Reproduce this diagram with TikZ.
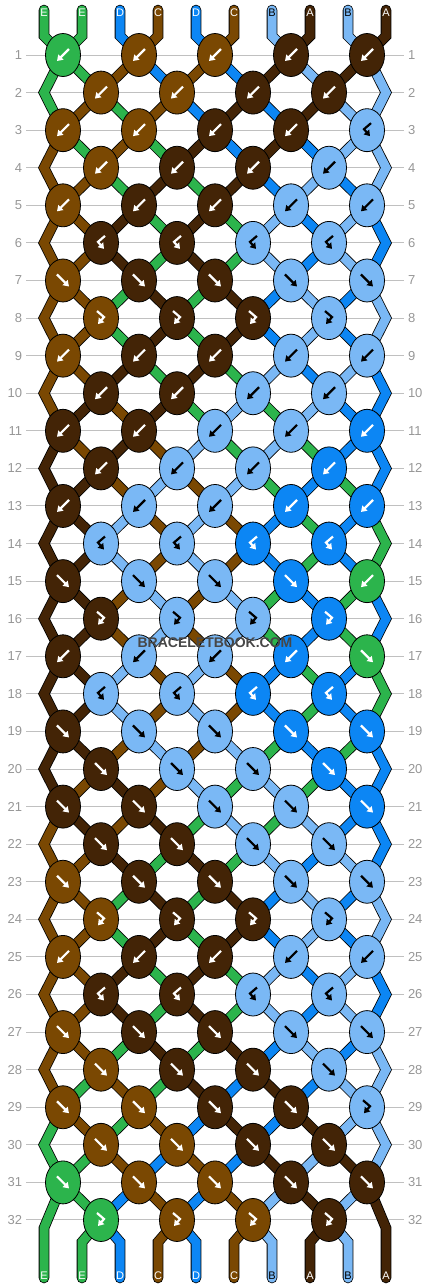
\documentclass[tikz,border=0pt]{standalone}
\usepackage{fontspec}
\setmainfont{Liberation Sans}
\usetikzlibrary{shapes.geometric,arrows.meta,backgrounds}
\definecolor{strA}{RGB}{67,36,6}
\definecolor{strB}{RGB}{122,184,245}
\definecolor{strC}{RGB}{122,72,2}
\definecolor{strD}{RGB}{12,134,244}
\definecolor{strE}{RGB}{44,180,76}
\colorlet{txtA}{white}
\colorlet{txtB}{black}
\colorlet{txtC}{white}
\colorlet{txtD}{white}
\colorlet{txtE}{white}
\definecolor{rulegrey}{RGB}{192,192,192}
\definecolor{numgrey}{RGB}{150,150,150}
\tikzset{
  knot/.style={ellipse,draw=black,line width=.8pt,minimum width=35pt,
    minimum height=43pt,inner sep=0pt,fill=str#1},
  strand/.style={draw=black,line width=.8pt,double=str#1,double distance=9pt,
    line cap=round},
  glyph/.style={line width=2.2pt,-{Triangle[length=5.5pt,width=7pt]}},
  glyphb/.pic={\draw[glyph] (6,-6) -- (-6,6);},
  glyphf/.pic={\draw[glyph] (-6,-6) -- (6,6);},
  glyphfb/.pic={\draw[glyph] (-4,-7) -- (3,-1) -- (-3,6);},
  glyphbf/.pic={\draw[glyph] (4,-7) -- (-3,-1) -- (3,6);},
  rownum/.style={font=\fontsize{13}{13}\selectfont,text=numgrey,inner sep=4pt,
    outer sep=0pt},
  endtag/.style={font=\fontsize{11}{11}\selectfont,text=txt#1,inner sep=0pt},
  rowrule/.style={draw=rulegrey,line width=1pt},
  watermark/.style={font=\bfseries\fontsize{14}{14}\selectfont,text=black!72}
}
\begin{document}
\begin{tikzpicture}[x=1pt,y=-1pt]
  \useasboundingbox (0,0) rectangle (430,1288);
  \foreach \r in {1,...,32}{%
    \pgfmathsetmacro\ky{55+37.58*(\r-1)}
    \node[rownum,anchor=east] (numL\r) at (26,\ky) {\r};
    \node[rownum,anchor=west] (numR\r) at (404,\ky) {\r};
  }
  \foreach \r/\row in {1/{E/b,C/b,C/b,A/b,A/b}, 2/{C/b,C/b,A/b,A/b},
      3/{C/b,C/b,A/b,A/b,B/bf}, 4/{C/b,A/b,A/b,B/b},
      5/{C/b,A/b,A/b,B/b,B/b}, 6/{A/bf,A/bf,B/bf,B/bf},
      7/{C/f,A/f,A/f,B/f,B/f}, 8/{C/fb,A/fb,A/fb,B/fb},
      9/{C/b,A/b,A/b,B/b,B/b}, 10/{A/b,A/b,B/b,B/b},
      11/{A/b,A/b,B/b,B/b,D/b}, 12/{A/b,B/b,B/b,D/b},
      13/{A/b,B/b,B/b,D/b,D/b}, 14/{B/bf,B/bf,D/bf,D/bf},
      15/{A/f,B/f,B/f,D/f,E/b}, 16/{A/fb,B/fb,B/fb,D/fb},
      17/{A/b,B/b,B/b,D/b,E/f}, 18/{B/bf,B/bf,D/bf,D/bf},
      19/{A/f,B/f,B/f,D/f,D/f}, 20/{A/f,B/f,B/f,D/f},
      21/{A/f,A/f,B/f,B/f,D/f}, 22/{A/f,A/f,B/f,B/f},
      23/{C/f,A/f,A/f,B/f,B/f}, 24/{C/fb,A/fb,A/fb,B/fb},
      25/{C/b,A/b,A/b,B/b,B/b}, 26/{A/bf,A/bf,B/bf,B/bf},
      27/{C/f,A/f,A/f,B/f,B/f}, 28/{C/f,A/f,A/f,B/f},
      29/{C/f,C/f,A/f,A/f,B/fb}, 30/{C/f,C/f,A/f,A/f},
      31/{E/f,C/f,C/f,A/f,A/f}, 32/{E/fb,C/fb,C/fb,A/fb}}{%
    \pgfmathsetmacro\ky{55+37.58*(\r-1)}
    \foreach \c/\t [count=\i] in \row {%
      \pgfmathsetmacro\kx{isodd(\r) ? 76*\i-13 : 76*\i+25}
      \node[knot=\c] (k\r-\i) at (\kx,\ky) {};
      \pic[color=txt\c] at (k\r-\i) {glyph\t};
    }
  }
  \foreach \c [count=\p] in {E,E,D,C,D,C,B,A,B,A}{%
    \pgfmathsetmacro\sx{6+38*\p}
    \coordinate (in\p) at (\sx,10);
    \coordinate (tb\p) at (\sx,36);
    \coordinate (bb\p) at (\sx,1242);
    \coordinate (out\p) at (\sx,1278);
    \node[endtag=\c] (top\p) at (\sx,13) {\c};
    \node[endtag=\c] (bot\p) at (\sx,1276) {\c};
  }
  \node[watermark] (wm) at (215,643) {BRACELETBOOK.COM};
  \begin{pgfonlayer}{background}
    \foreach \r in {1,...,32}
      \draw[rowrule] (numL\r.east) -- (numR\r.west);
    \foreach \c [count=\p] in {E,E,D,C,D,C,B,A,B,A}{%
      \pgfmathtruncatemacro\i{(\p+1)/2}
      \draw[strand=\c] (in\p) -- (tb\p) -- (k1-\i.center);
    }
    \foreach \r/\cl/\cr in {2/E/B, 4/C/B, 6/C/D, 8/C/B, 10/C/D, 12/A/D,
        14/A/E, 16/A/D, 18/A/E, 20/A/D, 22/C/D, 24/C/B, 26/C/D, 28/C/B,
        30/E/B, 32/E/A}{%
      \pgfmathsetmacro\ey{\r==32 ? 1228 : 55+37.58*(\r-1)}
      \pgfmathtruncatemacro\a{\r-1}
      \pgfmathtruncatemacro\b{\r+1}
      \coordinate (eL\r) at (44,\ey);
      \coordinate (eR\r) at (386,\ey);
      \ifnum\r<32
        \draw[strand=\cl] (k\a-1.center) -- (eL\r) -- (k\b-1.center);
        \draw[strand=\cr] (k\a-5.center) -- (eR\r) -- (k\b-5.center);
      \else
        \draw[strand=\cl] (k\a-1.center) -- (eL\r) -- (out1);
        \draw[strand=\cr] (k\a-5.center) -- (eR\r) -- (out10);
      \fi
    }
    \foreach \r/\s in {1/{E,E,C,D,C,D,A,B,A,B}, 2/{E,C,E,C,D,A,D,A,B,B},
        3/{C,E,C,E,A,D,A,D,B,B}, 4/{C,C,E,A,E,A,D,B,D,B},
        5/{C,C,A,E,A,E,B,D,B,D}, 6/{C,C,A,E,A,E,B,D,B,D},
        7/{C,C,E,A,E,A,D,B,D,B}, 8/{C,C,E,A,E,A,D,B,D,B},
        9/{C,C,A,E,A,E,B,D,B,D}, 10/{C,A,C,A,E,B,E,B,D,D},
        11/{A,C,A,C,B,E,B,E,D,D}, 12/{A,A,C,B,C,B,E,D,E,D},
        13/{A,A,B,C,B,C,D,E,D,E}, 14/{A,A,B,C,B,C,D,E,D,E},
        15/{A,A,C,B,C,B,E,D,E,D}, 16/{A,A,C,B,C,B,E,D,E,D},
        17/{A,A,B,C,B,C,D,E,D,E}, 18/{A,A,B,C,B,C,D,E,D,E},
        19/{A,A,C,B,C,B,E,D,E,D}, 20/{A,C,A,C,B,E,B,E,D,D},
        21/{C,A,C,A,E,B,E,B,D,D}, 22/{C,C,A,E,A,E,B,D,B,D},
        23/{C,C,E,A,E,A,D,B,D,B}, 24/{C,C,E,A,E,A,D,B,D,B},
        25/{C,C,A,E,A,E,B,D,B,D}, 26/{C,C,A,E,A,E,B,D,B,D},
        27/{C,C,E,A,E,A,D,B,D,B}, 28/{C,E,C,E,A,D,A,D,B,B},
        29/{E,C,E,C,D,A,D,A,B,B}, 30/{E,E,C,D,C,D,A,B,A,B},
        31/{E,E,D,C,D,C,B,A,B,A}}{%
      \pgfmathtruncatemacro\q{\r+1}
      \foreach \c [count=\p] in \s {%
        \ifnum\p>1 \ifnum\p<10
          \pgfmathtruncatemacro\ia{isodd(\r) ? (\p+1)/2 : \p/2}
          \pgfmathtruncatemacro\ib{isodd(\r) ? \p/2 : (\p+1)/2}
          \draw[strand=\c] (k\r-\ia.center) -- (k\q-\ib.center);
        \fi\fi
      }
    }
    \foreach \c [count=\p from 2] in {E,D,C,D,C,B,A,B}{%
      \pgfmathtruncatemacro\i{\p/2}
      \draw[strand=\c] (k32-\i.center) -- (bb\p) -- (out\p);
    }
  \end{pgfonlayer}
\end{tikzpicture}
\end{document}
